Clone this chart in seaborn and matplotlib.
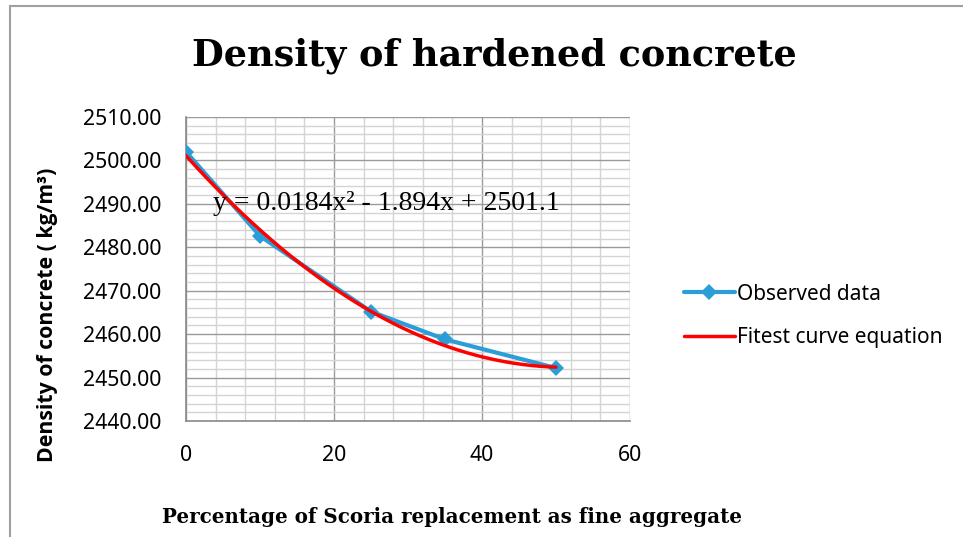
import numpy as np
import pandas as pd
import matplotlib
matplotlib.use("Agg")
import matplotlib.pyplot as plt
from matplotlib.ticker import MultipleLocator, FormatStrFormatter
from matplotlib.patches import Rectangle
import seaborn as sns

# Data
replacement_pct = [0, 10, 25, 35, 50]
density_observed = [2502.0, 2482.6, 2465.2, 2458.8, 2452.2]
fit_coeffs = [0.0184, -1.894, 2501.1]  # y = 0.0184x^2 - 1.894x + 2501.1
title_text = "Density of hardened concrete"
xlabel_text = "Percentage of Scoria replacement as fine aggregate"
ylabel_text = "Density of concrete ( kg/m³)"
equation_text = "y = 0.0184x² - 1.894x + 2501.1"
legend_labels = ["Observed data", "Fitest curve equation"]

sns.set_theme(style="white")
plt.rcParams['font.family'] = ['Noto Sans', 'DejaVu Sans']
plt.rcParams['text.color'] = 'black'
plt.rcParams['axes.labelcolor'] = 'black'
plt.rcParams['xtick.color'] = 'black'
plt.rcParams['ytick.color'] = 'black'

fig = plt.figure(figsize=(9.63, 5.37), dpi=100)
ax = fig.add_axes([186/963, 1-421/537, (630-186)/963, (421-117)/537])

obs_df = pd.DataFrame({"x": replacement_pct, "y": density_observed})
x_fit = np.linspace(min(replacement_pct), max(replacement_pct), 200)
fit_df = pd.DataFrame({"x": x_fit, "y": np.polyval(fit_coeffs, x_fit)})

blue = "#2B9ED8"
sns.lineplot(data=obs_df, x="x", y="y", ax=ax, color=blue, linewidth=3,
             marker="D", markersize=8, markeredgewidth=0, label=legend_labels[0],
             zorder=3)
sns.lineplot(data=fit_df, x="x", y="y", ax=ax, color="#FF0000", linewidth=2.5,
             label=legend_labels[1], zorder=4)

ax.set_xlim(0, 60)
ax.set_ylim(2440, 2510)
ax.xaxis.set_major_locator(MultipleLocator(20))
ax.xaxis.set_minor_locator(MultipleLocator(4))
ax.yaxis.set_major_locator(MultipleLocator(10))
ax.yaxis.set_minor_locator(MultipleLocator(2))
ax.yaxis.set_major_formatter(FormatStrFormatter("%.2f"))

ax.grid(which="major", color="#9a9a9a", linewidth=1.0)
ax.grid(which="minor", color="#d4d4d4", linewidth=1.0)
ax.set_axisbelow(True)
for s in ["top", "right"]:
    ax.spines[s].set_visible(False)
for s in ["left", "bottom"]:
    ax.spines[s].set_color("#8a8a8a")
    ax.spines[s].set_linewidth(1.2)
ax.tick_params(axis="both", which="major", direction="out", length=6,
               color="#8a8a8a", width=1.2, labelsize=15.3, labelcolor="black")
ax.tick_params(axis="y", which="major", pad=12)
ax.tick_params(axis="x", which="major", pad=11)
ax.tick_params(axis="both", which="minor", length=0)
ax.set_xlabel("")
ax.set_ylabel("")

fig.text(48/963, 1-315/537, ylabel_text, rotation=90, ha="center", va="center",
         fontsize=15.3, fontweight="bold", family=['Open Sans', 'DejaVu Sans'])
fig.text(452/963, 1-517/537, xlabel_text, ha="center", va="center",
         fontsize=14.3, fontweight="bold", family=['DejaVu Serif'])
fig.text(494/963, 1-56/537, title_text, ha="center", va="center",
         fontsize=26.4, fontweight="bold", family=['DejaVu Serif'])
ax.text(213/963, 1-203/537, equation_text, transform=fig.transFigure,
        ha="left", va="center", fontsize=20, family=['Liberation Serif'], zorder=5)

leg = ax.legend(loc="center left", bbox_to_anchor=(665/963, 1-316/537),
                bbox_transform=fig.transFigure, frameon=False, fontsize=15,
                handlelength=2.45, handletextpad=0.1, labelspacing=1.1)

fig.patches.append(Rectangle((10/963, -0.1), 1.2, 1-6/537+0.1, transform=fig.transFigure,
                             fill=False, edgecolor="#a0a0a0", linewidth=1.5, zorder=0))

fig.savefig("out.png", dpi=100)
